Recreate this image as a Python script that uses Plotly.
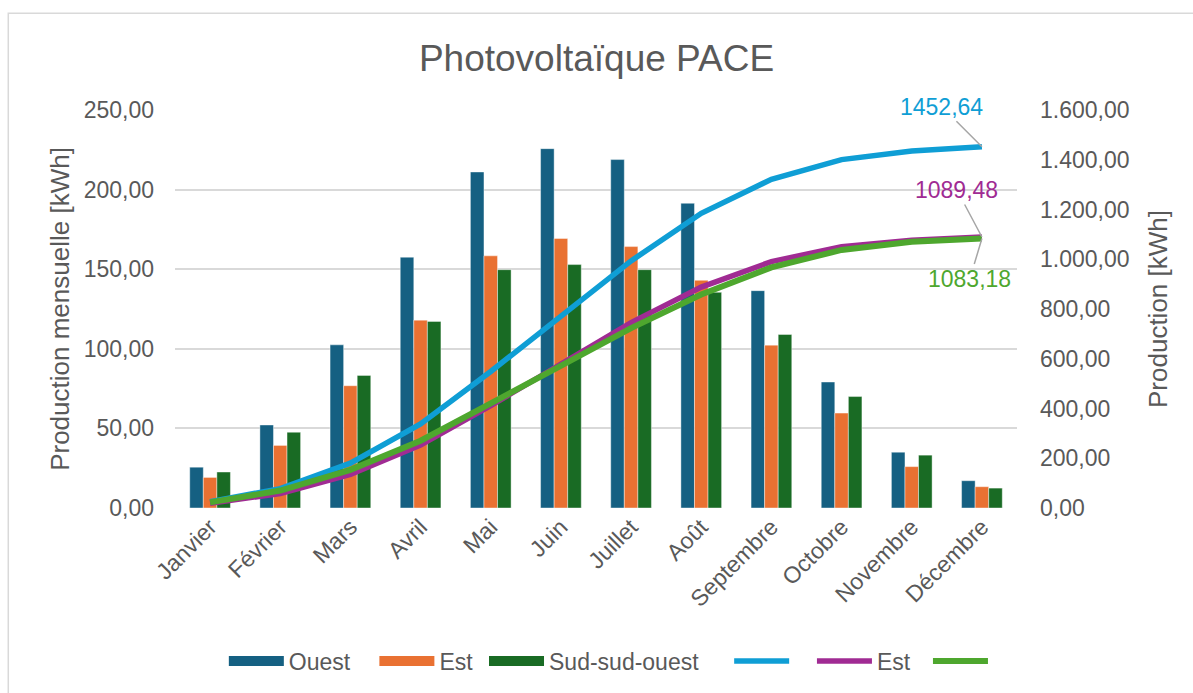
import plotly.graph_objects as go

# Mois
mois = ["Janvier", "Février", "Mars", "Avril", "Mai", "Juin", "Juillet",
        "Août", "Septembre", "Octobre", "Novembre", "Décembre"]

# Production mensuelle [kWh] par orientation
ouest = [25.62, 52.14, 102.48, 157.53, 211.07, 225.71, 218.86, 191.40,
         136.52, 79.13, 35.04, 17.14]
est = [19.20, 39.30, 76.80, 118.00, 158.40, 169.30, 164.20, 143.00,
       102.30, 59.60, 26.00, 13.38]
sud_sud_ouest = [22.60, 47.60, 83.30, 117.20, 149.70, 152.90, 149.70, 135.48,
                 109.00, 70.00, 33.20, 12.50]

# Production cumulée [kWh]
cumul_ouest = [25.62, 77.76, 180.24, 337.77, 548.84, 774.55, 993.41, 1184.81,
               1321.33, 1400.46, 1435.50, 1452.64]
cumul_est = [19.20, 58.50, 135.30, 253.30, 411.70, 581.00, 745.20, 888.20,
             990.50, 1050.10, 1076.10, 1089.48]
cumul_sso = [22.60, 70.20, 153.50, 270.70, 420.40, 573.30, 723.00, 858.48,
             967.48, 1037.48, 1070.68, 1083.18]

BLEU_FONCE = "#156082"
ORANGE = "#E97132"
VERT_FONCE = "#196B24"
BLEU_CLAIR = "#0F9ED5"
VIOLET = "#A02B93"
VERT_CLAIR = "#4EA72E"
GRIS = "#595959"
FONT = "Liberation Sans, Arial, sans-serif"
NB = "\u00a0"

fig = go.Figure()

# Légende : rectangles larges pour les séries en barres
for nom, pad, coul in [("Ouest", 3, BLEU_FONCE), ("Est", 1, ORANGE),
                       ("Sud-sud-ouest", 4, VERT_FONCE)]:
    fig.add_trace(go.Scatter(x=[None], y=[None], mode="lines", name=nom + NB * pad,
                             line=dict(color=coul, width=13), hoverinfo="skip"))

for nom, vals, coul in [("Ouest", ouest, BLEU_FONCE), ("Est", est, ORANGE),
                        ("Sud-sud-ouest", sud_sud_ouest, VERT_FONCE)]:
    fig.add_trace(go.Bar(x=mois, y=vals, name=nom, marker_color=coul,
                         marker_line=dict(width=0.6, color="rgba(255,255,255,0.7)"),
                         showlegend=False, yaxis="y"))

for nom, vals, coul, w in [(NB * 2, cumul_ouest, BLEU_CLAIR, 5.5),
                           ("Est" + NB * 2, cumul_est, VIOLET, 5.5),
                           ("", cumul_sso, VERT_CLAIR, 6)]:
    fig.add_trace(go.Scatter(x=mois, y=vals, name=nom, mode="lines", yaxis="y2",
                             line=dict(color=coul, width=w)))

# Étiquettes des valeurs finales
for val, coul, ax, ay in [(cumul_ouest[-1], BLEU_CLAIR, -40, -40),
                          (cumul_est[-1], VIOLET, -25, -47),
                          (cumul_sso[-1], VERT_CLAIR, -12, 40)]:
    fig.add_annotation(x=mois[-1], y=val, xref="x", yref="y2",
                       text=f"{val:.2f}".replace(".", ","),
                       showarrow=True, arrowhead=0, arrowwidth=1.5, arrowcolor="#A6A6A6",
                       ax=ax, ay=ay, standoff=0,
                       font=dict(family=FONT, size=23, color=coul))

# Cadre du graphique
fig.add_shape(type="rect", xref="paper", yref="paper",
              x0=-0.198, x1=1.25, y0=-0.5, y1=1.243,
              line=dict(color="#D9D9D9", width=1.5), fillcolor="rgba(0,0,0,0)", layer="below")

fig.update_layout(
    width=1193, height=693,
    margin=dict(l=175, r=176, t=110, b=184),
    paper_bgcolor="white", plot_bgcolor="white",
    separators=",.",
    barmode="group", bargap=0.42, bargroupgap=0,
    font=dict(family=FONT, size=23, color=GRIS),
    title=dict(text="Photovoltaïque PACE", x=0.5, xanchor="center",
               y=1 - 58 / 693, yanchor="middle", yref="container",
               font=dict(family=FONT, size=37, color=GRIS)),
    xaxis=dict(type="category", tickangle=-45, showgrid=False, showline=False,
               ticks="", tickfont=dict(size=23, color=GRIS)),
    yaxis=dict(range=[0, 250], dtick=50, tickformat=",.2f", showgrid=True,
               gridcolor="#D9D9D9", gridwidth=1.5, zeroline=False, showline=False,
               ticks="", ticklabelstandoff=20,
               title=dict(text="Production mensuelle [kWh]", standoff=6,
                          font=dict(size=26, color=GRIS))),
    yaxis2=dict(range=[0, 1600], dtick=200, tickformat=",.2f", overlaying="y",
                side="right", showgrid=False, zeroline=False, showline=False,
                ticks="", ticklabelstandoff=22,
                title=dict(text="Production [kWh]", standoff=20,
                           font=dict(size=26, color=GRIS))),
    legend=dict(orientation="h", x=0.058, xanchor="left", y=-0.381, yanchor="middle",
                itemwidth=55, font=dict(size=23, color=GRIS), bgcolor="rgba(0,0,0,0)",
                traceorder="normal"),
    showlegend=True,
)

fig.write_html("out.html")
